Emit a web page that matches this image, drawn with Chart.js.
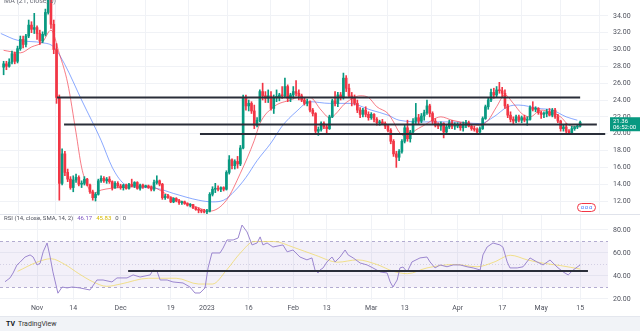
<!DOCTYPE html>
<html>
<head>
<meta charset="utf-8">
<script src="https://cdn.jsdelivr.net/npm/chart.js@4.4.0/dist/chart.umd.min.js"></script>
<style>
html, body { margin: 0; padding: 0; width: 640px; height: 331px; overflow: hidden; background: #fff; font-family: Roboto, "Liberation Sans", sans-serif; }
#price { position: absolute; left: 0; top: 0; }
#rsi { position: absolute; left: 0; top: 214px; }
#foot { position: absolute; left: 0; top: 316px; width: 640px; height: 15px; background: #f1f3f7; border-top: 1px solid #e4e7ee; }
#foot span { position: absolute; left: 6px; top: 3px; font-size: 7px; color: #333; }
#foot b { font-size: 7px; margin-right: 3px; color: #131722; }
</style>
</head>
<body>
<canvas id="price" width="640" height="214"></canvas>
<canvas id="rsi" width="640" height="102"></canvas>
<div id="foot"><span><b>TV</b>TradingView</span></div>
<script>
// SOL/USD daily, day numbers counted from 1 Nov 2022
var firstDay = -12;

var opens = [
    27.9, 28.3, 28.0, 28.5, 29.5, 28.6, 30.1, 31.2, 30.6, 31.6, 32.9, 32.4,
    32.6, 31.9, 31.0, 31.8, 34.4, 37.8, 33.0, 30.0, 24.3, 14.1,
    17.6, 15.4, 14.6, 13.6, 14.5, 14.8, 14.0, 14.1, 14.6, 13.9,
    13.1, 12.4, 12.8, 14.4, 14.7, 14.4, 14.6, 14.3, 13.6, 14.1,
    13.8, 13.6, 13.9, 13.5, 14.0, 13.8, 14.2, 13.5, 13.9, 13.7,
    13.8, 13.6, 13.4, 14.2, 14.4, 14.0, 12.4, 12.6, 12.4, 11.9,
    12.3, 12.0, 11.8, 11.9, 11.7, 11.5, 11.6, 11.2, 11.0, 10.9,
    10.8, 10.7, 10.8, 12.8, 13.4, 13.5, 13.4, 13.6, 13.4, 15.4,
    16.9, 16.2, 16.7, 16.4, 18.3, 24.3, 23.3, 23.6, 22.7, 21.0,
    21.6, 25.0, 24.5, 24.2, 24.5, 23.0, 24.3, 24.3, 24.6, 24.5,
    25.6, 24.2, 24.6, 25.0, 24.8, 24.5, 24.0, 23.6, 23.8, 22.8,
    22.4, 20.3, 20.5, 21.2, 20.8, 20.6, 22.0, 23.9, 23.6, 24.6,
    24.3, 26.6, 25.4, 24.5, 24.2, 23.6, 22.8, 22.3, 22.8, 22.3,
    21.9, 22.3, 21.7, 21.3, 21.4, 21.2, 20.9, 20.4, 19.1, 17.6,
    17.2, 17.9, 19.1, 20.7, 19.4, 20.2, 21.5, 21.9, 21.5, 22.1,
    22.5, 23.3, 22.4, 21.5, 21.0, 20.9, 21.2, 20.2, 20.8, 21.3,
    20.9, 20.9, 21.1, 20.7, 21.0, 21.3, 20.9, 20.6, 20.5, 20.2,
    20.6, 21.8, 23.2, 24.0, 24.9, 24.6, 25.2, 25.1, 24.8, 23.3,
    22.2, 21.7, 21.5, 22.0, 21.6, 21.9, 21.6, 21.7, 23.1, 22.9,
    23.0, 22.5, 22.3, 22.4, 22.6, 22.2, 22.8, 22.0, 21.5, 20.6,
    20.8, 20.3, 20.1, 20.6, 20.8, 20.9
];
var highs = [
    28.6, 28.6, 28.9, 29.8, 29.7, 30.4, 31.6, 31.6, 31.8, 33.5, 33.3, 34.3,
    32.8, 32.3, 32.1, 34.8, 38.8, 38.5, 33.5, 30.7, 24.6, 18.2,
    17.9, 15.8, 14.9, 15.0, 15.2, 15.0, 14.4, 14.9, 14.7, 14.0,
    13.3, 13.0, 14.6, 15.0, 14.9, 14.8, 14.9, 14.4, 14.3, 14.3,
    14.0, 14.0, 14.0, 14.1, 14.6, 14.3, 14.3, 14.0, 14.0, 13.9,
    13.9, 13.8, 14.5, 15.0, 14.5, 14.1, 12.8, 12.8, 12.5, 12.4,
    12.4, 12.2, 12.0, 12.0, 11.8, 11.7, 11.6, 11.3, 11.2, 11.0,
    11.0, 11.0, 13.0, 13.7, 14.1, 13.8, 13.7, 13.7, 15.6, 17.4,
    17.0, 16.9, 17.3, 18.6, 24.6, 24.6, 24.0, 23.8, 23.4, 21.9,
    25.2, 26.0, 25.0, 25.2, 25.0, 24.6, 25.2, 24.8, 25.6, 26.6,
    25.8, 24.8, 25.6, 26.3, 25.2, 24.7, 24.2, 24.1, 23.9, 23.0,
    22.5, 20.8, 21.4, 21.4, 21.0, 22.2, 24.1, 25.0, 24.9, 24.9,
    27.2, 26.9, 25.9, 24.9, 24.6, 24.0, 23.1, 23.0, 23.2, 22.6,
    22.5, 22.4, 21.9, 21.6, 21.7, 21.4, 21.0, 20.6, 19.3, 17.9,
    18.1, 19.3, 21.0, 21.6, 20.4, 21.8, 23.6, 22.3, 22.4, 22.8,
    24.0, 23.5, 22.6, 21.8, 21.3, 21.4, 21.3, 21.0, 21.6, 21.6,
    21.3, 21.3, 21.3, 21.4, 21.6, 21.5, 21.0, 20.9, 20.7, 20.8,
    22.0, 23.4, 24.3, 25.3, 25.4, 25.6, 26.1, 25.5, 25.2, 23.5,
    22.6, 22.0, 22.2, 22.2, 22.1, 22.2, 22.0, 23.3, 23.8, 23.2,
    23.1, 22.7, 22.6, 22.9, 23.0, 23.0, 23.0, 22.3, 21.6, 21.0,
    21.2, 20.5, 20.9, 20.9, 21.1, 21.5
];
var lows = [
    27.0, 27.6, 27.9, 28.3, 28.3, 28.4, 29.9, 30.2, 30.3, 31.4, 32.0, 31.9,
    31.2, 30.6, 30.8, 31.6, 34.2, 32.5, 29.5, 23.6, 12.1, 13.9,
    15.0, 14.3, 13.4, 13.1, 14.2, 13.8, 13.6, 13.9, 13.8, 12.9,
    12.1, 12.0, 12.7, 14.2, 14.2, 14.1, 14.1, 13.3, 13.5, 13.6,
    13.4, 13.3, 13.4, 13.4, 13.7, 13.6, 13.4, 13.3, 13.5, 13.6,
    13.5, 13.2, 13.2, 14.0, 13.8, 12.2, 12.2, 12.3, 11.8, 11.8,
    11.9, 11.6, 11.6, 11.6, 11.4, 11.3, 11.1, 10.9, 10.6, 10.6,
    10.6, 10.5, 10.7, 12.6, 13.0, 13.2, 13.1, 13.2, 13.3, 15.2,
    15.8, 15.8, 15.9, 16.2, 18.2, 22.8, 22.7, 22.4, 20.6, 20.8,
    21.4, 24.0, 23.7, 23.7, 22.8, 22.4, 23.8, 23.9, 24.2, 24.3,
    23.8, 23.8, 24.2, 24.5, 24.0, 23.8, 23.4, 23.3, 22.6, 22.1,
    20.0, 19.8, 20.3, 20.6, 19.9, 20.5, 21.9, 23.3, 23.2, 24.0,
    24.1, 25.0, 24.3, 23.3, 23.4, 22.5, 21.9, 22.0, 22.0, 21.6,
    21.7, 21.4, 21.0, 21.0, 21.1, 20.6, 20.2, 18.8, 17.3, 16.0,
    16.8, 17.7, 18.9, 19.1, 19.0, 20.0, 21.2, 21.2, 21.3, 21.6,
    22.3, 22.0, 21.2, 20.8, 20.6, 20.4, 19.5, 20.0, 20.6, 20.6,
    20.5, 20.7, 20.4, 20.3, 20.7, 20.8, 20.4, 20.3, 20.0, 19.9,
    20.5, 21.7, 22.9, 23.8, 24.2, 24.4, 24.8, 24.3, 23.0, 21.9,
    21.4, 21.2, 21.3, 21.4, 21.3, 21.4, 21.0, 21.6, 22.7, 22.6,
    22.3, 21.8, 21.9, 22.0, 22.1, 22.0, 21.8, 21.3, 20.3, 20.3,
    19.9, 19.9, 19.9, 20.4, 20.6, 20.8
];
var closes = [
    28.3, 28.0, 28.5, 29.5, 28.6, 30.1, 31.2, 30.6, 31.6, 32.9, 32.4, 32.6,
    31.9, 31.0, 31.8, 34.4, 37.8, 33.0, 30.0, 24.3, 14.1, 17.6,
    15.4, 14.6, 13.6, 14.5, 14.8, 14.0, 14.1, 14.6, 13.9, 13.1,
    12.4, 12.8, 14.4, 14.7, 14.4, 14.6, 14.3, 13.6, 14.1, 13.8,
    13.6, 13.9, 13.5, 14.0, 13.8, 14.2, 13.5, 13.9, 13.7, 13.8,
    13.6, 13.4, 14.2, 14.4, 14.0, 12.4, 12.6, 12.4, 11.9, 12.3,
    12.0, 11.8, 11.9, 11.7, 11.5, 11.6, 11.2, 11.0, 10.9, 10.8,
    10.7, 10.8, 12.8, 13.4, 13.5, 13.4, 13.6, 13.4, 15.4, 16.9,
    16.2, 16.7, 16.4, 18.3, 24.3, 23.3, 23.6, 22.7, 21.0, 21.6,
    25.0, 24.5, 24.2, 24.5, 23.0, 24.3, 24.3, 24.6, 24.5, 25.6,
    24.2, 24.6, 25.0, 24.8, 24.5, 24.0, 23.6, 23.8, 22.8, 22.4,
    20.3, 20.5, 21.2, 20.8, 20.6, 22.0, 23.9, 23.6, 24.6, 24.3,
    26.6, 25.4, 24.5, 24.2, 23.6, 22.8, 22.3, 22.8, 22.3, 21.9,
    22.3, 21.7, 21.3, 21.4, 21.2, 20.9, 20.4, 19.1, 17.6, 17.2,
    17.9, 19.1, 20.7, 19.4, 20.2, 21.5, 21.9, 21.5, 22.1, 22.5,
    23.3, 22.4, 21.5, 21.0, 20.9, 21.2, 20.2, 20.8, 21.3, 20.9,
    20.9, 21.1, 20.7, 21.0, 21.3, 20.9, 20.6, 20.5, 20.2, 20.6,
    21.8, 23.2, 24.0, 24.9, 24.6, 25.2, 25.1, 24.8, 23.3, 22.2,
    21.7, 21.5, 22.0, 21.6, 21.9, 21.6, 21.7, 23.1, 22.9, 23.0,
    22.5, 22.3, 22.4, 22.6, 22.2, 22.8, 22.0, 21.5, 20.6, 20.8,
    20.3, 20.1, 20.6, 20.8, 20.9, 21.36
];

// moving averages
var maFastDays = [-12, -6, -2, 2, 5, 8, 11, 14, 16, 18, 20, 23, 30, 41, 44, 48, 54, 58, 62, 68, 73, 78, 80, 85, 91, 94, 98, 102, 105, 111, 116, 119, 122, 126, 128, 130, 133, 135, 139, 145, 149, 155, 159, 162, 165, 168, 171, 174, 177, 181, 184, 188, 191, 195];
var maFastValues = [29.9, 29.6, 30.3, 30.9, 32.3, 29.5, 26.0, 20.1, 16.0, 13.9, 12.9, 13.3, 13.6, 13.7, 13.3, 12.5, 11.7, 11.2, 10.8, 12.1, 15.3, 19.2, 21.2, 23.2, 24.0, 24.3, 24.3, 22.8, 21.9, 23.7, 24.5, 24.3, 23.2, 22.4, 21.4, 20.2, 19.6, 20.2, 21.0, 22.0, 21.6, 21.2, 21.0, 21.6, 23.2, 24.6, 23.6, 22.4, 22.0, 22.8, 22.6, 22.0, 21.0, 20.8];
var maSlowDays = [-13, -7, 2, 6, 10, 16, 23, 27, 31, 35, 43, 49, 58, 63, 67, 71, 75, 79, 84, 88, 93, 98, 105, 112, 120, 126, 130, 139, 149, 159, 164, 169, 173, 180, 185, 190, 194];
var maSlowValues = [31.9, 31.1, 30.8, 30.3, 28.2, 24.0, 19.2, 16.0, 14.1, 13.7, 13.5, 12.9, 12.1, 11.9, 12.1, 13.2, 14.8, 16.8, 18.9, 20.9, 22.6, 23.8, 23.6, 23.6, 22.8, 22.2, 21.6, 21.4, 21.4, 21.2, 22.0, 23.2, 23.4, 23.0, 22.8, 22.0, 21.6];

// drawn support / resistance lines
var levelPrices = [24.3, 21.1, 19.95];
var levelStarts = [7.2, 9.7, 58.5];
var levelEnds = [195, 201, 204];

// RSI (14) and its SMA
var rsiDays = [-11.5, -9.7, -8.6, -7.2, -6.1, -4.3, -2.5, -1.4, 0, 1.1, 2.2, 3.6, 4.7, 5.7, 7.5, 9, 10.8, 12.6, 15.4, 19, 21.5, 23.7, 26.9, 28.7, 32.3, 34.5, 37, 40.6, 41.7, 43.1, 44.2, 46.7, 48.8, 52.4, 54.9, 56.7, 58.5, 60.3, 61.4, 62.8, 65.7, 66.8, 68.2, 70.4, 72.2, 73.6, 75.4, 77.2, 79, 80.1, 81.1, 82.6, 84.7, 88.3, 89.8, 91.9, 94.4, 96.9, 98.7, 99.8, 100.9, 101.6, 102.7, 104.1, 105.9, 107, 108.8, 110.6, 111.7, 113.5, 116, 118.5, 120.6, 123.2, 125.7, 126.8, 127.8, 129.3, 130.3, 131.4, 132.9, 134.6, 137.5, 140, 141.1, 142.9, 144.7, 147.2, 149.4, 151.9, 154.4, 156.6, 159.1, 160.1, 161.6, 163.7, 166.2, 167.3, 168.8, 169.8, 172.4, 174.5, 177, 179.5, 181.7, 184.2, 186.7, 188.9, 190.7, 192.5, 195];
var rsiValues = [35, 38.3, 42.6, 49.6, 52, 56.5, 58.3, 56.5, 49.6, 51, 61, 68.7, 56.5, 43.5, 25, 30.4, 29.6, 30.4, 29.6, 27.8, 36.5, 36.5, 34.8, 38.3, 38.3, 40.9, 39.1, 40.9, 45.2, 44, 36.5, 36.5, 34.8, 33.9, 30.4, 25.2, 25.2, 29.6, 47, 60, 60, 64.3, 71.3, 71.3, 73, 84.3, 78.3, 67, 68.7, 74, 67, 68.7, 65.2, 67, 61, 62.6, 56.5, 54, 55.7, 45.2, 42.6, 45.2, 47, 52.2, 56.5, 52.2, 56.5, 62.6, 58.3, 55.7, 51.3, 49.6, 47, 43.5, 42.6, 34.8, 30.4, 36.5, 47, 47.8, 43.5, 52.2, 55.7, 56.5, 52.2, 47, 49.6, 48, 49.6, 49.6, 48, 47, 45.2, 58.3, 65.2, 68.7, 67, 65, 52.2, 47, 47, 48, 55.7, 52.2, 49.6, 53.9, 47.8, 43.5, 40.9, 45.2, 49.6];
var rsiMaDays = [-7, 0, 5, 10, 15, 20, 25, 30, 40, 50, 58, 63, 68, 73, 78, 85, 92, 100, 108, 115, 122, 128, 133, 140, 150, 158, 164, 170, 176, 182, 188, 195];
var rsiMaValues = [44, 52, 55, 50, 42, 35, 31, 33, 38, 38, 33, 33, 45, 60, 70, 70, 65, 58, 52, 54, 50, 44, 42, 47, 50, 48, 52, 58, 54, 51, 49, 46];
var rsiLevel = 44.3, rsiLevelStart = 32.7, rsiLevelEnd = 197.8;

// time axis labels
var tickDays = [0, 13, 30, 48, 61, 76, 92, 104, 120, 132, 151, 167, 181, 195];
var tickNames = ['Nov', '14', 'Dec', '19', '2023', '16', 'Feb', '13', 'Mar', '13', 'Apr', '17', 'May', '15'];
var priceTicks = [12, 14, 16, 18, 20, 22, 24, 26, 28, 30, 32, 34];
var rsiTicks = [20, 40, 60, 80];

var lastPrice = 21.36;
var xMin = -13.3, xMax = 205;
var upColor = '#089981', downColor = '#f23645';
var gridColor = '#f0f2f6';
var axisFont = { family: 'Roboto, "Liberation Sans", sans-serif', size: 7 };

var candleDays = opens.map(function (_, i) { return firstDay + i; });
var candleColors = opens.map(function (o, i) { return closes[i] >= o ? upColor : downColor; });

function points(xs, ys) {
    return xs.map(function (x, i) { return { x: x, y: ys[i] }; });
}

function xScale(showLabels) {
    return {
        type: 'linear', min: xMin, max: xMax, offset: false,
        grid: { color: gridColor, drawTicks: false },
        border: { display: false },
        ticks: {
            display: showLabels, font: axisFont, color: '#50535e', padding: 4,
            autoSkip: false, maxRotation: 0,
            callback: function (v, i) { return tickNames[i]; }
        },
        afterBuildTicks: function (s) { s.ticks = tickDays.map(function (v) { return { value: v }; }); },
        afterFit: function (s) {
            s.height = showLabels ? 16 : 0;
            s.paddingLeft = 0; s.paddingRight = 0;
        }
    };
}

function yScale(min, max, ticks) {
    return {
        position: 'right', min: min, max: max,
        grid: { color: gridColor, drawTicks: false },
        border: { display: false },
        ticks: { font: axisFont, color: '#50535e', padding: 5, callback: function (v) { return v.toFixed(2); } },
        afterBuildTicks: function (s) { s.ticks = ticks.map(function (v) { return { value: v }; }); },
        afterFit: function (s) {
            s.width = 32;
            s.paddingTop = 0; s.paddingBottom = 0;
        }
    };
}

// level lines as two point line datasets
var levelSets = levelPrices.map(function (p, i) {
    return {
        type: 'line', data: [{ x: levelStarts[i], y: p }, { x: levelEnds[i], y: p }],
        borderColor: '#2a2e39', borderWidth: 2, pointRadius: 0, order: -2
    };
});

var priceOverlay = {
    id: 'priceOverlay',
    afterDraw: function (chart) {
        var ctx = chart.ctx;
        var area = chart.chartArea;
        ctx.save();
        ctx.font = '7px Roboto, "Liberation Sans", sans-serif';
        ctx.fillStyle = '#6a6d78';
        ctx.textBaseline = 'alphabetic';
        ctx.fillText('MA (21, close, 0)', 4, 3);

        // last price label
        var y = chart.scales.y.getPixelForValue(lastPrice);
        ctx.fillStyle = upColor;
        ctx.fillRect(area.right + 2, y - 5, 640 - area.right - 2, 14);
        ctx.fillStyle = '#fff';
        ctx.font = '6px Roboto, "Liberation Sans", sans-serif';
        ctx.textBaseline = 'middle';
        ctx.fillText(lastPrice.toFixed(2), area.right + 5, y - 1);
        ctx.fillText('06:52:00', area.right + 5, y + 5);

        // small flag badge near the bottom right
        ctx.fillStyle = '#fff';
        ctx.strokeStyle = downColor;
        ctx.lineWidth = 1;
        ctx.beginPath();
        ctx.roundRect(577.5, 203.5, 18, 8, 4);
        ctx.fill();
        ctx.stroke();
        ctx.fillStyle = '#2962ff';
        ctx.font = '5px Roboto, "Liberation Sans", sans-serif';
        ctx.textAlign = 'center';
        ctx.fillText('ɑ ɑ ɑ', 586.5, 207.5);
        ctx.restore();
    }
};

new Chart(document.getElementById('price'), {
    type: 'bar',
    data: {
        datasets: [
            {
                data: candleDays.map(function (d, i) { return { x: d, y: [opens[i], closes[i]] }; }),
                backgroundColor: candleColors, barThickness: 2, minBarLength: 1, grouped: false, order: -1
            },
            {
                data: candleDays.map(function (d, i) { return { x: d, y: [lows[i], highs[i]] }; }),
                backgroundColor: candleColors, barThickness: 1, grouped: false, order: 0
            },
            {
                type: 'line', data: points(maFastDays, maFastValues),
                borderColor: 'rgba(242,54,69,0.65)', borderWidth: 1, pointRadius: 0, cubicInterpolationMode: 'monotone', order: 1
            },
            {
                type: 'line', data: points(maSlowDays, maSlowValues),
                borderColor: 'rgba(41,98,255,0.55)', borderWidth: 1, pointRadius: 0, cubicInterpolationMode: 'monotone', order: 1
            }
        ].concat(levelSets)
    },
    options: {
        responsive: false, animation: false, devicePixelRatio: 1,
        layout: { padding: 0 },
        plugins: { legend: { display: false }, tooltip: { enabled: false } },
        scales: { x: xScale(false), y: yScale(10.46, 35.88, priceTicks) }
    },
    plugins: [priceOverlay]
});

var rsiOverlay = {
    id: 'rsiOverlay',
    beforeDatasetsDraw: function (chart) {
        var ctx = chart.ctx;
        var area = chart.chartArea;
        var ys = chart.scales.y;
        var y70 = ys.getPixelForValue(70), y50 = ys.getPixelForValue(50), y30 = ys.getPixelForValue(30);
        ctx.save();
        ctx.fillStyle = 'rgba(126,87,194,0.09)';
        ctx.fillRect(area.left, y70, area.right - area.left, y30 - y70);
        ctx.strokeStyle = '#b3acd0';
        ctx.lineWidth = 1;
        ctx.setLineDash([3, 3]);
        [y70, y30].forEach(function (y) {
            ctx.beginPath();
            ctx.moveTo(area.left, Math.round(y) + 0.5);
            ctx.lineTo(area.right, Math.round(y) + 0.5);
            ctx.stroke();
        });
        ctx.strokeStyle = '#d4d0e4';
        ctx.setLineDash([1, 2]);
        ctx.beginPath();
        ctx.moveTo(area.left, Math.round(y50) + 0.5);
        ctx.lineTo(area.right, Math.round(y50) + 0.5);
        ctx.stroke();
        ctx.restore();
    },
    afterDraw: function (chart) {
        var ctx = chart.ctx;
        ctx.save();
        ctx.strokeStyle = '#e0e3eb';
        ctx.beginPath();
        ctx.moveTo(0, 0.5);
        ctx.lineTo(640, 0.5);
        ctx.stroke();
        ctx.font = '6px Roboto, "Liberation Sans", sans-serif';
        ctx.textBaseline = 'middle';
        var x = 4;
        var parts = [['RSI (14, close, SMA, 14, 2)', '#50535e'], ['46.17', '#7e57c2'], ['45.83', '#d6b800'], ['0', '#50535e'], ['0', '#50535e']];
        parts.forEach(function (p) {
            ctx.fillStyle = p[1];
            ctx.fillText(p[0], x, 4);
            x += ctx.measureText(p[0]).width + 4;
        });
        ctx.restore();
    }
};

new Chart(document.getElementById('rsi'), {
    type: 'line',
    data: {
        datasets: [
            {
                data: points(rsiDays, rsiValues),
                borderColor: '#9b86cf', borderWidth: 1, pointRadius: 0, tension: 0, order: 1
            },
            {
                data: points(rsiMaDays, rsiMaValues),
                borderColor: 'rgba(240,215,90,0.7)', borderWidth: 1, pointRadius: 0, cubicInterpolationMode: 'monotone', order: 2
            },
            {
                data: [{ x: rsiLevelStart, y: rsiLevel }, { x: rsiLevelEnd, y: rsiLevel }],
                borderColor: '#2a2e39', borderWidth: 2, pointRadius: 0, order: 0
            }
        ]
    },
    options: {
        responsive: false, animation: false, devicePixelRatio: 1,
        layout: { padding: 0 },
        plugins: { legend: { display: false }, tooltip: { enabled: false } },
        scales: { x: xScale(true), y: yScale(19.1, 93.9, rsiTicks) }
    },
    plugins: [rsiOverlay]
});
</script>
</body>
</html>
